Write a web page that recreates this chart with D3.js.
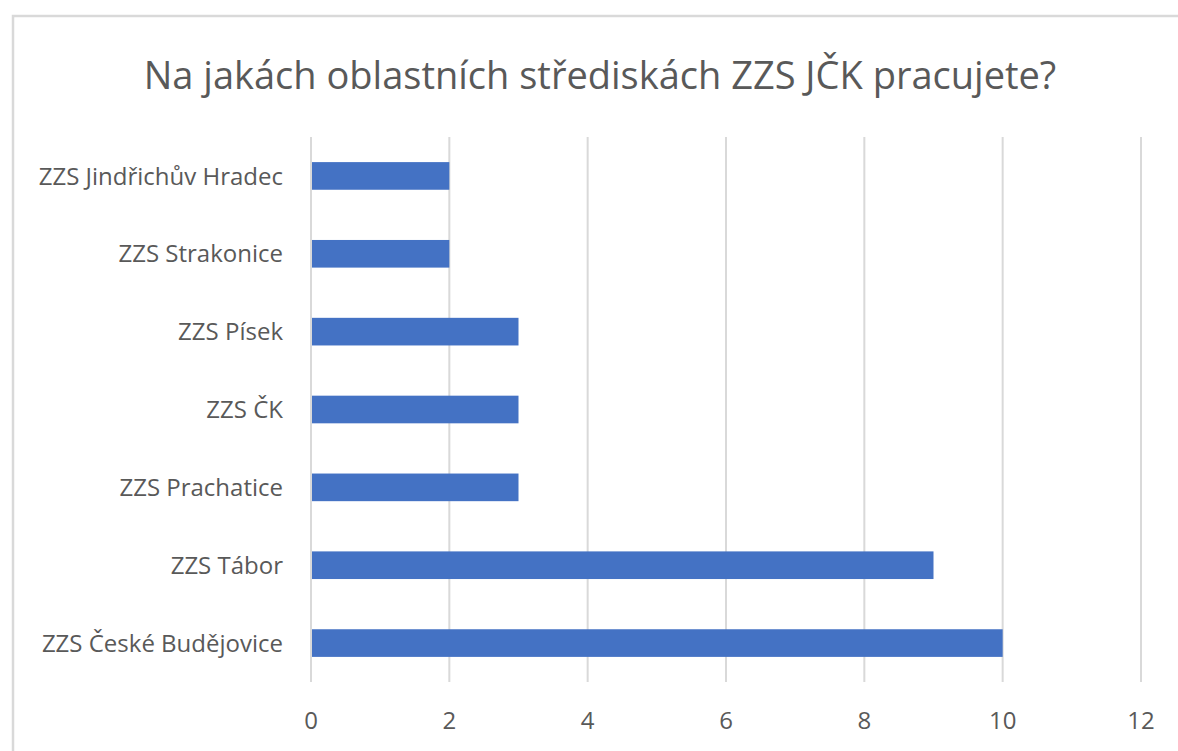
<!DOCTYPE html>
<html>
<head>
<meta charset="utf-8">
<script src="https://cdn.jsdelivr.net/npm/d3@7"></script>
<style>
  body { margin: 0; background: #fff; }
  text { font-family: "Open Sans", "Noto Sans", sans-serif; fill: #595959; }
</style>
</head>
<body>
<script>
var W = 1178, H = 751;

// data
var categories = ["ZZS Jindřichův Hradec", "ZZS Strakonice", "ZZS Písek", "ZZS ČK",
                  "ZZS Prachatice", "ZZS Tábor", "ZZS České Budějovice"];
var values = [2, 2, 3, 3, 3, 9, 10];
var xTicks = [0, 2, 4, 6, 8, 10, 12];
var title = "Na jakách oblastních střediskách ZZS JČK pracujete?";

var plot = { left: 311, right: 1141, top: 137, bottom: 682 };

var svg = d3.select('body').append('svg')
  .attr('width', W)
  .attr('height', H);

// chart border (runs off the right and bottom edge)
svg.append('rect')
  .attr('x', 13).attr('y', 16)
  .attr('width', W + 20).attr('height', H + 20)
  .attr('fill', 'none')
  .attr('stroke', '#d9d9d9')
  .attr('stroke-width', 2.5);

var x = d3.scaleLinear().domain([0, 12]).range([plot.left, plot.right]);
var y = d3.scaleBand().domain(categories).range([plot.top, plot.bottom]).paddingInner(0.645).paddingOuter(0.3225);

// gridlines
svg.append('g').selectAll('line')
  .data(xTicks)
  .enter().append('line')
  .attr('x1', function(d) { return x(d); })
  .attr('x2', function(d) { return x(d); })
  .attr('y1', plot.top)
  .attr('y2', plot.bottom)
  .attr('stroke', '#d9d9d9')
  .attr('stroke-width', 2);

// bars
svg.append('g').selectAll('rect')
  .data(values)
  .enter().append('rect')
  .attr('x', x(0) + 1)
  .attr('y', function(d, i) { return y(categories[i]); })
  .attr('width', function(d) { return x(d) - x(0) - 1; })
  .attr('height', y.bandwidth())
  .attr('fill', '#4472c4');

// x tick labels
svg.append('g').selectAll('text')
  .data(xTicks)
  .enter().append('text')
  .attr('x', function(d) { return x(d); })
  .attr('y', 729)
  .attr('text-anchor', 'middle')
  .style('font-size', '24px')
  .text(function(d) { return d; });

// category labels
svg.append('g').selectAll('text')
  .data(categories)
  .enter().append('text')
  .attr('x', 283)
  .attr('y', function(d) { return y(d) + y.bandwidth() / 2; })
  .attr('dy', '0.36em')
  .attr('text-anchor', 'end')
  .style('font-size', '24px')
  .text(function(d) { return d; });

// title
svg.append('text')
  .attr('x', 600)
  .attr('y', 89)
  .attr('text-anchor', 'middle')
  .style('font-size', '38px')
  .text(title);
</script>
</body>
</html>
